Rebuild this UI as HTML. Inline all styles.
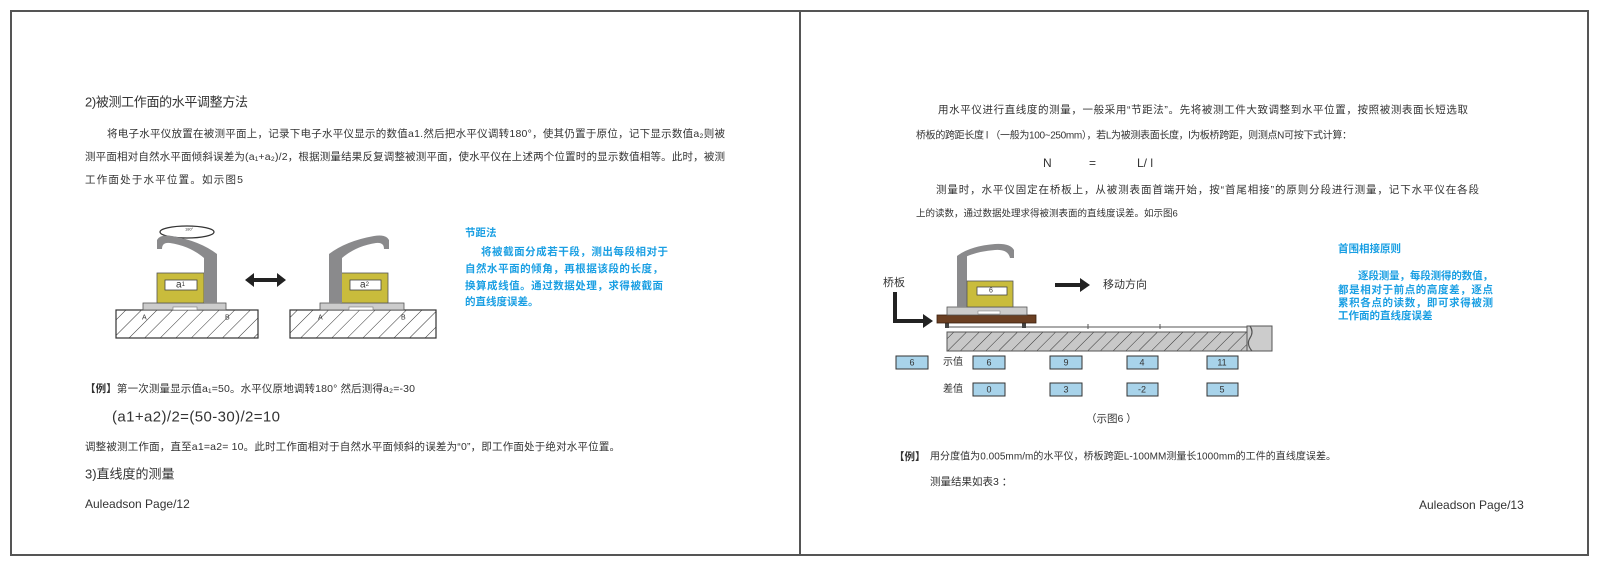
<!DOCTYPE html>
<html><head><meta charset="utf-8"><style>
html,body{margin:0;padding:0;background:#fff;}
svg{display:block;}
text{font-family:"Liberation Sans","Noto Sans CJK SC",sans-serif;fill:#333;dominant-baseline:central;}
.b{fill:#1a9fe3;font-weight:bold;}
</style></head><body>
<svg width="1600" height="567" viewBox="0 0 1600 567" xmlns="http://www.w3.org/2000/svg">
<defs>
<pattern id="h" width="11" height="11" patternUnits="userSpaceOnUse" patternTransform="rotate(45)">
<rect width="11" height="11" fill="#fff"/><line x1="0" y1="0" x2="0" y2="11" stroke="#333" stroke-width="1"/></pattern>
<pattern id="h2" width="9" height="9" patternUnits="userSpaceOnUse" patternTransform="rotate(45)">
<rect width="9" height="9" fill="#c8c8c8"/><line x1="0" y1="0" x2="0" y2="9" stroke="#333" stroke-width="1"/></pattern>
</defs>
<rect x="11" y="11" width="1577" height="544" fill="none" stroke="#555" stroke-width="2"/>
<line x1="800" y1="11" x2="800" y2="555" stroke="#555" stroke-width="2"/>

<!-- LEFT PAGE -->
<text x="85" y="102" font-size="13" textLength="163">2)被测工作面的水平调整方法</text>
<text x="107" y="134" font-size="10.5" textLength="618">将电子水平仪放置在被测平面上，记录下电子水平仪显示的数值a1.然后把水平仪调转180°，使其仍置于原位，记下显示数值a₂则被</text>
<text x="85" y="157" font-size="10.5" textLength="640">测平面相对自然水平面倾斜误差为(a₁+a₂)/2，根据测量结果反复调整被测平面，使水平仪在上述两个位置时的显示数值相等。此时，被测</text>
<text x="85" y="180" font-size="10.5" textLength="158">工作面处于水平位置。如示图5</text>

<!-- left figure -->
<ellipse cx="187" cy="232" rx="27" ry="6" fill="none" stroke="#333" stroke-width="1.2"/>
<text x="185" y="229" font-size="4">180°</text>
<rect x="116" y="310" width="142" height="28" fill="url(#h)" stroke="#333" stroke-width="1.2"/>
<rect x="143" y="303" width="83" height="7" fill="#ccc" stroke="#555" stroke-width="0.8"/>
<rect x="173" y="307" width="24" height="3" fill="#fff" stroke="#777" stroke-width="0.6"/>
<rect x="157" y="273" width="47" height="30" fill="#c9bc3c" stroke="#555" stroke-width="0.8"/>
<rect x="165" y="280" width="32" height="10" fill="#fff" stroke="#444" stroke-width="0.8"/>
<text x="176" y="285" font-size="10" font-family="Liberation Serif">a<tspan font-size="6">1</tspan></text>
<path d="M204,303 L204,258 Q190,246 170,243 Q162,242 162,249 L157,249 L157,240 Q160,234 172,236 Q200,241 217,254 L217,303 Z" fill="#8a8a8c"/>
<text x="142" y="318" font-size="7">A</text><text x="225" y="318" font-size="7">B</text>

<path d="M245,280 l9,-7 v5 h23 v-5 l9,7 l-9,7 v-5 h-23 v5 z" fill="#222"/>

<g transform="translate(16,0)">
<rect x="274" y="310" width="146" height="28" fill="url(#h)" stroke="#333" stroke-width="1.2"/>
<rect x="304" y="303" width="84" height="7" fill="#ccc" stroke="#555" stroke-width="0.8"/>
<rect x="333" y="307" width="24" height="3" fill="#fff" stroke="#777" stroke-width="0.6"/>
<rect x="325" y="273" width="47" height="30" fill="#c9bc3c" stroke="#555" stroke-width="0.8"/>
<rect x="334" y="280" width="31" height="10" fill="#fff" stroke="#444" stroke-width="0.8"/>
<text x="344" y="285" font-size="10" font-family="Liberation Serif">a<tspan font-size="6">2</tspan></text>
<path d="M326,303 L326,258 Q340,246 360,243 Q368,242 368,249 L373,249 L373,240 Q370,234 358,236 Q330,241 313,254 L313,303 Z" fill="#8a8a8c"/>
<text x="302" y="318" font-size="7">A</text><text x="385" y="318" font-size="7">B</text>
</g>

<text class="b" x="465" y="233" font-size="10.5">节距法</text>
<text class="b" x="481" y="252" font-size="10.5" textLength="187">将被截面分成若干段，测出每段相对于</text>
<text class="b" x="465" y="269" font-size="10.5" textLength="198">自然水平面的倾角，再根据该段的长度，</text>
<text class="b" x="465" y="286" font-size="10.5" textLength="198">换算成线值。通过数据处理，求得被截面</text>
<text class="b" x="465" y="302" font-size="10.5">的直线度误差。</text>

<text x="85" y="389" font-size="10.5" textLength="330"><tspan font-weight="bold">【例】</tspan>第一次测量显示值a₁=50。水平仪原地调转180° 然后测得a₂=-30</text>
<text x="112" y="417" font-size="15" textLength="168">(a1+a2)/2=(50-30)/2=10</text>
<text x="85" y="447" font-size="10.5" textLength="535">调整被测工作面，直至a1=a2= 10。此时工作面相对于自然水平面倾斜的误差为“0”，即工作面处于绝对水平位置。</text>
<text x="85" y="474" font-size="13">3)直线度的测量</text>
<text x="85" y="504" font-size="12">Auleadson Page/12</text>

<!-- RIGHT PAGE -->
<text x="938" y="110" font-size="10.5" textLength="530">用水平仪进行直线度的测量，一般采用“节距法”。先将被测工件大致调整到水平位置，按照被测表面长短选取</text>
<text x="916" y="136" font-size="10" textLength="436">桥板的跨距长度 l （一般为100~250mm），若L为被测表面长度，l为板桥跨距，则测点N可按下式计算：</text>
<text x="1043" y="163" font-size="12">N</text>
<text x="1089" y="163" font-size="12">=</text>
<text x="1137" y="163" font-size="12">L/ l</text>
<text x="936" y="190" font-size="10.5" textLength="543">测量时，水平仪固定在桥板上，从被测表面首端开始，按“首尾相接”的原则分段进行测量，记下水平仪在各段</text>
<text x="916" y="214" font-size="9.5">上的读数，通过数据处理求得被测表面的直线度误差。如示图6</text>

<!-- right figure -->
<text x="883" y="283" font-size="11">桥板</text>
<path d="M893,292 h4 v27 h26 v-5 l10,7 l-10,7 v-5 h-30 z" fill="#222"/>
<line x1="947" y1="327" x2="1272" y2="327" stroke="#555" stroke-width="1"/>
<line x1="1088" y1="324" x2="1088" y2="329" stroke="#555"/>
<line x1="1160" y1="324" x2="1160" y2="329" stroke="#555"/>
<rect x="947" y="332" width="300" height="19" fill="url(#h2)" stroke="#555" stroke-width="1"/>
<rect x="1247" y="326" width="25" height="25" fill="#ccc" stroke="#555" stroke-width="1"/>
<path d="M1250,326 q4,6 0,12 q-4,6 2,13" fill="none" stroke="#555" stroke-width="1.2"/>
<rect x="945" y="322" width="4" height="6" fill="#444"/>
<rect x="1022" y="322" width="4" height="6" fill="#444"/>
<rect x="937" y="315" width="99" height="8" fill="#6b3f22" stroke="#3a2010" stroke-width="0.8"/>
<rect x="947" y="307" width="80" height="8" fill="#ccc" stroke="#555" stroke-width="0.8"/>
<rect x="978" y="311" width="22" height="3" fill="#fff" stroke="#777" stroke-width="0.5"/>
<path d="M957,307 L957,262 Q970,252 995,250 Q1008,249 1010,258 L1014,258 L1014,250 Q1010,243 995,244 Q970,246 957,256 Z" fill="#8a8a8c"/>
<rect x="957" y="256" width="10" height="51" fill="#8a8a8c"/>
<rect x="967" y="281" width="46" height="26" fill="#c9bc3c" stroke="#555" stroke-width="0.8"/>
<rect x="977" y="287" width="30" height="8" fill="#fff" stroke="#444" stroke-width="0.8"/>
<text x="989" y="291" font-size="7" font-family="Liberation Serif">6</text>
<path d="M1055,283 h25 v-5 l10,7 l-10,7 v-5 h-25 z" fill="#222"/>
<text x="1103" y="285" font-size="11">移动方向</text>

<g stroke="#333" stroke-width="1" fill="#a8d3ea">
<rect x="896" y="356" width="32" height="13"/>
<rect x="973" y="356" width="32" height="13"/>
<rect x="1050" y="356" width="32" height="13"/>
<rect x="1127" y="356" width="31" height="13"/>
<rect x="1207" y="356" width="31" height="13"/>
<rect x="973" y="383" width="32" height="13"/>
<rect x="1050" y="383" width="32" height="13"/>
<rect x="1127" y="383" width="31" height="13"/>
<rect x="1207" y="383" width="31" height="13"/>
</g>
<g font-size="9" text-anchor="middle">
<text x="912" y="362.5" font-family="Liberation Serif">6</text>
<text x="989" y="362.5" font-family="Liberation Serif">6</text>
<text x="1066" y="362.5" font-family="Liberation Serif">9</text>
<text x="1142" y="362.5" font-family="Liberation Serif">4</text>
<text x="1222" y="362.5" font-family="Liberation Serif">11</text>
<text x="989" y="389.5" font-family="Liberation Serif">0</text>
<text x="1066" y="389.5" font-family="Liberation Serif">3</text>
<text x="1142" y="389.5" font-family="Liberation Serif">-2</text>
<text x="1222" y="389.5" font-family="Liberation Serif">5</text>
</g>
<text x="943" y="362.5" font-size="10">示值</text>
<text x="943" y="389.5" font-size="10">差值</text>

<text class="b" x="1338" y="249" font-size="10.5">首围相接原则</text>
<text class="b" x="1358" y="276" font-size="10.5" textLength="135">逐段测量，每段测得的数值，</text>
<text class="b" x="1338" y="290" font-size="10.5" textLength="155">都是相对于前点的高度差，逐点</text>
<text class="b" x="1338" y="303" font-size="10.5" textLength="155">累积各点的读数，即可求得被测</text>
<text class="b" x="1338" y="316" font-size="10.5">工作面的直线度误差</text>

<text x="1086" y="419" font-size="10.5">（示图6 ）</text>
<text x="894" y="457" font-size="10.5" font-weight="bold">【例】</text>
<text x="930" y="457" font-size="10" textLength="406">用分度值为0.005mm/m的水平仪，桥板跨距L-100MM测量长1000mm的工件的直线度误差。</text>
<text x="930" y="482" font-size="10.5">测量结果如表3 ：</text>
<text x="1419" y="505" font-size="12">Auleadson Page/13</text>
</svg>
</body></html>
